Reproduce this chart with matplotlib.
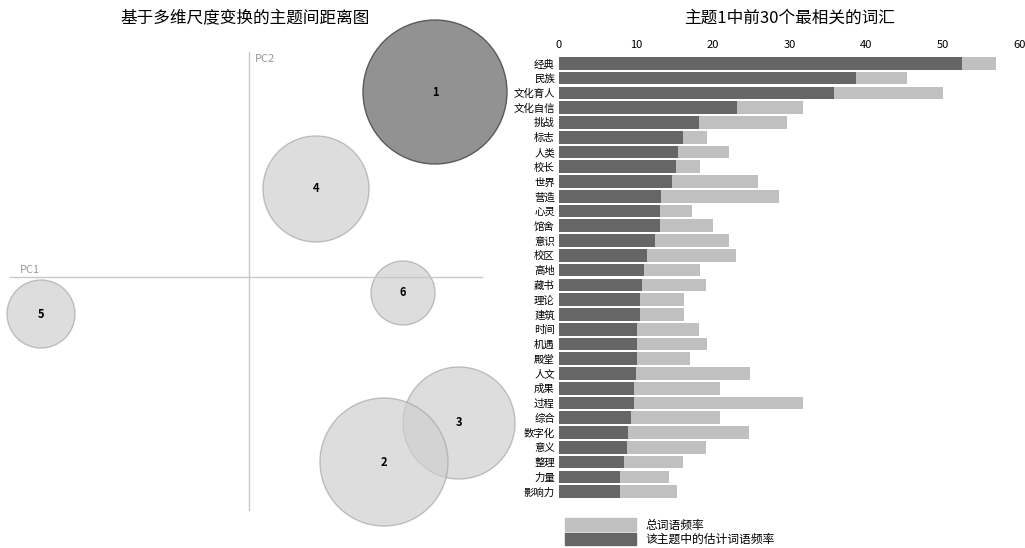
import numpy as np
import matplotlib.pyplot as plt
from matplotlib.patches import Circle, Patch

plt.rcParams['font.family'] = ['Noto Sans CJK SC', 'DejaVu Sans']

# topic map (MDS coordinates, radius)
topics = ['1', '4', '6', '5', '3', '2']
pc1 = [186, 67, 154, -208, 210, 135]
pc2 = [185, 88, -16, -37, -146, -185]
radius = [72, 53, 32, 34, 56, 64]

words = ['经典', '民族', '文化育人', '文化自信', '挑战', '标志', '人类', '校长', '世界', '营造',
         '心灵', '馆舍', '意识', '校区', '高地', '藏书', '理论', '建筑', '时间', '机遇',
         '殿堂', '人文', '成果', '过程', '综合', '数字化', '意义', '整理', '力量', '影响力']
topic_freq = [52.4, 38.7, 35.8, 23.2, 18.2, 16.2, 15.5, 15.2, 14.7, 13.3,
              13.2, 13.2, 12.5, 11.5, 11.0, 10.8, 10.6, 10.6, 10.2, 10.2,
              10.2, 10.0, 9.8, 9.7, 9.4, 9.0, 8.9, 8.4, 7.9, 7.9]
total_freq = [56.9, 45.3, 50.0, 31.8, 29.7, 19.3, 22.1, 18.3, 25.9, 28.6,
              17.3, 20.0, 22.1, 23.1, 18.3, 19.1, 16.3, 16.3, 18.2, 19.2,
              17.1, 24.9, 20.9, 31.7, 20.9, 24.7, 19.1, 16.2, 14.3, 15.3]

W, H = 1025, 548
fig = plt.figure(figsize=(W / 100, H / 100), dpi=100)

# left: inter-topic distance map
ax = fig.add_axes([0, 0, 490 / W, 520 / H])
ax.set_xlim(-249, 241)
ax.set_ylim(-271, 249)
ax.axis('off')
ax.plot([-239, 233], [0, 0], color='#c8c8c8', lw=1)
ax.plot([0, 0], [-233, 225], color='#c8c8c8', lw=1)
ax.text(-229, 4, 'PC1', color='#999999', fontsize=8)
ax.text(6, 215, 'PC2', color='#999999', fontsize=8)
for t, x, y, r in zip(topics, pc1, pc2, radius):
    if t == '1':
        c = Circle((x, y), r, facecolor='#8c8c8c', edgecolor='#555555', lw=1, alpha=0.95)
    else:
        c = Circle((x, y), r, facecolor='#cfcfcf', edgecolor='#a8a8a8', lw=1, alpha=0.7)
    c.set_clip_on(False)
    ax.add_patch(c)
    ax.text(x, y, t, ha='center', va='center', fontsize=8, fontweight='bold')
fig.text(245 / W, 1 - 18 / H, '基于多维尺度变换的主题间距离图', ha='center', va='center', fontsize=12)

# right: top-30 terms
bx = fig.add_axes([559 / W, 1 - 499 / H, 461 / W, 443 / H])
y = np.arange(len(words))
bx.barh(y, total_freq, height=0.86, color='#c0c0c0')
bx.barh(y, topic_freq, height=0.86, color='#666666')
bx.set_xlim(0, 60)
bx.set_ylim(len(words) - 0.5, -0.5)
bx.set_yticks(y)
bx.set_yticklabels(words, fontsize=7.5)
bx.xaxis.tick_top()
bx.set_xticks(range(0, 61, 10))
bx.tick_params(axis='x', labelsize=8, length=0, pad=4)
bx.tick_params(axis='y', length=0, pad=3)
for s in bx.spines.values():
    s.set_visible(False)
fig.text(790 / W, 1 - 18 / H, '主题1中前30个最相关的词汇', ha='center', va='center', fontsize=12)

leg = bx.legend(handles=[Patch(color='#c0c0c0', label='总词语频率'),
                         Patch(color='#666666', label='该主题中的估计词语频率')],
                loc='upper left', bbox_to_anchor=(-0.01, -0.02), frameon=False,
                fontsize=8.5, handlelength=6, handleheight=1.2, labelspacing=0.1)

fig.savefig('out.png', dpi=100)
